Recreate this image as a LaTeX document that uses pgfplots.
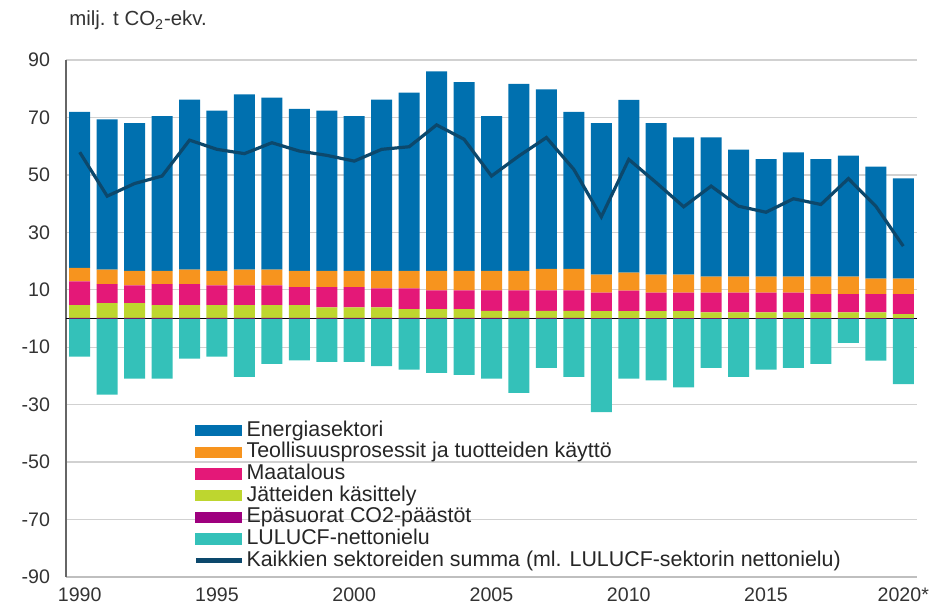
\documentclass[border=0pt]{standalone}
\usepackage{fontspec}
\setmainfont{Liberation Sans}
\usepackage{pgfplots}
\usepackage{pgfplotstable}
\pgfplotsset{compat=1.18}

\definecolor{cEn}{RGB}{0,112,175}
\definecolor{cInd}{RGB}{247,148,30}
\definecolor{cAgr}{RGB}{228,24,120}
\definecolor{cWst}{RGB}{190,214,47}
\definecolor{cEpa}{RGB}{158,0,126}
\definecolor{cLul}{RGB}{52,193,185}
\definecolor{cSum}{RGB}{12,72,108}

% milj. t CO2-ekv.
\pgfplotstableread{
year energy industry agri waste indirect lulucf total
1990 54.3 4.7 8.2 4.5 0.2 -13.3 57.9
1991 52.3 5.0 6.6 5.2 0.2 -26.5 42.6
1992 51.4 5.1 6.1 5.2 0.2 -20.9 47.0
1993 53.9 4.6 7.3 4.5 0.2 -20.9 49.6
1994 59.2 5.0 7.3 4.5 0.2 -14.0 62.1
1995 55.8 5.1 6.8 4.5 0.2 -13.3 58.9
1996 61.0 5.5 6.8 4.5 0.2 -20.3 57.4
1997 59.9 5.5 6.8 4.5 0.2 -15.8 61.2
1998 56.4 5.7 6.2 4.5 0.2 -14.6 58.3
1999 55.8 5.7 7.0 3.7 0.2 -15.1 56.8
2000 53.9 5.7 7.0 3.7 0.2 -15.1 54.8
2001 59.6 6.1 6.6 3.7 0.2 -16.6 58.9
2002 62.0 6.1 7.2 3.1 0.2 -17.8 59.8
2003 69.4 6.8 6.5 3.1 0.2 -18.9 67.4
2004 65.7 6.8 6.5 3.1 0.2 -19.6 62.4
2005 53.9 6.8 7.1 2.5 0.2 -20.9 49.6
2006 65.1 6.8 7.1 2.5 0.2 -25.9 56.6
2007 62.5 7.5 7.1 2.5 0.2 -17.2 63.0
2008 54.6 7.5 7.1 2.5 0.2 -20.3 51.9
2009 52.7 6.3 6.4 2.5 0.1 -32.6 35.4
2010 60.1 6.3 7.1 2.5 0.1 -20.9 55.4
2011 52.7 6.3 6.4 2.5 0.1 -21.5 47.3
2012 47.8 6.3 6.4 2.5 0.1 -24.0 38.9
2013 48.5 5.6 6.9 2.0 0.1 -17.2 46.1
2014 44.2 5.6 6.9 2.0 0.1 -20.3 39.1
2015 40.9 5.6 6.9 2.0 0.1 -17.8 37.0
2016 43.2 5.6 6.9 2.0 0.1 -17.2 41.7
2017 40.9 6.1 6.4 2.0 0.1 -15.8 39.7
2018 42.1 6.1 6.4 2.0 0.1 -8.5 48.7
2019 39.0 5.4 6.4 2.0 0.1 -14.7 39.1
2020 34.9 5.4 7.0 1.4 0.1 -22.8 25.2
}\datatable

\newcommand\legbox[1]{\addlegendimage{legend image code/.code={\fill[#1] (0pt,-2.6pt) rectangle (23pt,2.6pt);}}}

\pgfplotsset{common/.style={
  scale only axis,
  width=425.5pt, height=258.5pt,
  xmin=1989.5, xmax=2020.5,
  ymin=-90, ymax=90,
}}

\begin{document}
\begin{tikzpicture}
\begin{axis}[
  common,
  name=ax,
  ybar stacked,
  stack negative=separate,
  bar width=10.5pt,
  ytick={-90,-70,...,90},
  xtick={1990,1995,2000,2005,2010,2015,2020},
  xticklabels={1990,1995,2000,2005,2010,2015,2020*},
  major tick length=0pt,
  axis x line*=bottom,
  axis y line*=left,
  x axis line style={draw=black!25, line width=0.8pt, -},
  y axis line style={draw=black!60, line width=0.8pt, -},
  ymajorgrids,
  grid style={draw=black!18, line width=0.7pt},
  /pgf/number format/assume math mode=true,
  tick label style={font=\fontsize{9.8pt}{11pt}\selectfont, text=black!80},
  yticklabel style={xshift=-4.5pt},
  xticklabel style={yshift=-2pt},
  legend style={draw=none, fill=none, at={(0.1492,0.305)}, anchor=north west,
    font=\fontsize{10.7pt}{12pt}\selectfont, row sep=0pt,
    inner sep=0pt, text=black!85,
    nodes={inner xsep=1.2pt, inner ysep=0.2pt, text height=8pt, text depth=2.45pt},
    cells={anchor=west}},
  legend cell align=left,
]
\legbox{cEn}\addlegendentry{Energiasektori}
\legbox{cInd}\addlegendentry{Teollisuusprosessit ja tuotteiden käyttö}
\legbox{cAgr}\addlegendentry{Maatalous}
\legbox{cWst}\addlegendentry{Jätteiden käsittely}
\legbox{cEpa}\addlegendentry{Epäsuorat CO2-päästöt}
\legbox{cLul}\addlegendentry{LULUCF-nettonielu}
\addlegendimage{legend image code/.code={\draw[cSum, line width=2.4pt] (0pt,0pt) -- (23pt,0pt);}}
\addlegendentry{Kaikkien sektoreiden summa (ml. LULUCF-sektorin nettonielu)}

\addplot[fill=cEpa, draw=none, forget plot] table[x=year, y=indirect] {\datatable};
\addplot[fill=cWst, draw=none, forget plot] table[x=year, y=waste] {\datatable};
\addplot[fill=cAgr, draw=none, forget plot] table[x=year, y=agri] {\datatable};
\addplot[fill=cInd, draw=none, forget plot] table[x=year, y=industry] {\datatable};
\addplot[fill=cEn, draw=none, forget plot] table[x=year, y=energy] {\datatable};
\addplot[fill=cLul, draw=none, forget plot] table[x=year, y=lulucf] {\datatable};
\draw[black, line width=0.9pt] (axis cs:1989.5,0) -- (axis cs:2020.5,0);
\end{axis}
\begin{axis}[common, at={(ax.south west)}, anchor=south west, hide axis]
\addplot[sharp plot, cSum, line width=1.6pt, mark=none] table[x=year, y=total] {\datatable};
\end{axis}
\node[anchor=base west, inner sep=0pt, font=\fontsize{10.2pt}{12pt}\selectfont, text=black!80]
  at ([xshift=1.5pt, yshift=17pt]ax.north west) {milj. t CO\textsubscript{2}-ekv.};
\pgfresetboundingbox
\path[use as bounding box] ([xshift=-33pt, yshift=-14.5pt]ax.south west) rectangle ([xshift=6.5pt, yshift=30pt]ax.north east);
\end{tikzpicture}
\end{document}
